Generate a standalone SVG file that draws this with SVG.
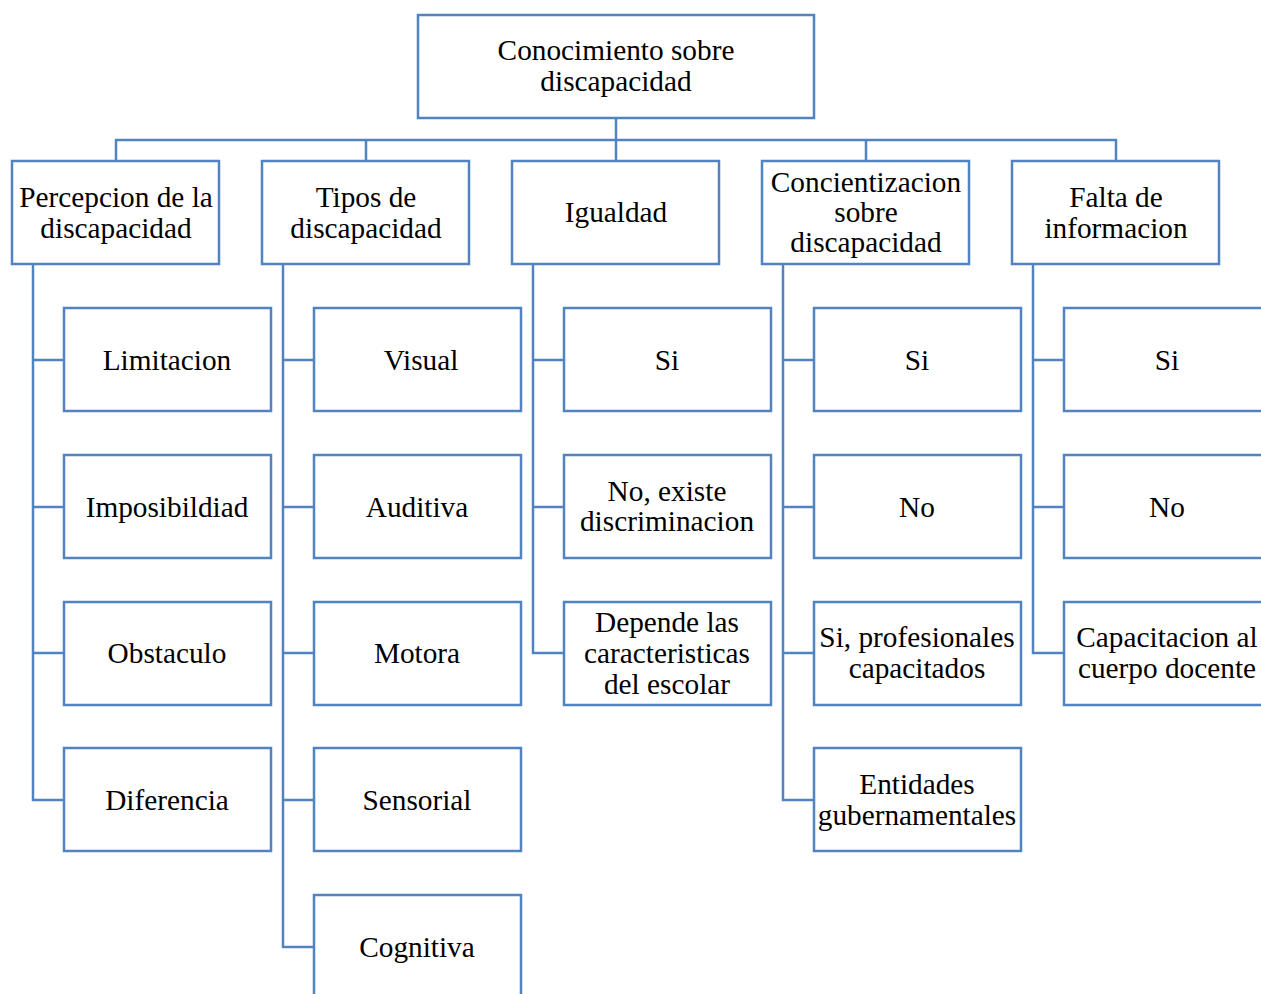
<svg xmlns="http://www.w3.org/2000/svg" width="1261" height="994" viewBox="0 0 1261 994" font-family="Liberation Serif, DejaVu Serif, serif">
<style>
.b{fill:#fff;stroke:#5083BF;stroke-width:2.5}
.c{fill:none;stroke:#5083BF;stroke-width:2.5}
.t{font-size:29.3px;fill:#000;text-anchor:middle}
</style>
<rect width="1261" height="994" fill="#fff"/>
<g id="connectors">
<path class="c" d="M616 118V140M116 161V140H1116V161M366 140V161M616 140V161M866 140V161"/>
<path class="c" d="M33 264V800H64M33 360H64M33 507H64M33 653H64"/>
<path class="c" d="M283 264V947H314M283 360H314M283 507H314M283 653H314M283 800H314"/>
<path class="c" d="M533 264V653H564M533 360H564M533 507H564"/>
<path class="c" d="M783 264V800H814M783 360H814M783 507H814M783 653H814"/>
<path class="c" d="M1033 264V653H1064M1033 360H1064M1033 507H1064"/>
</g>
<g class="t" font-family="Liberation Serif, DejaVu Serif, serif">
<g id="root"><rect class="b" x="418" y="15" width="396" height="103"/><text x="616" y="60">Conocimiento sobre</text><text x="616" y="91">discapacidad</text></g>
<g id="n1"><rect class="b" x="12" y="161" width="207" height="103"/><text x="116" y="207">Percepcion de la</text><text x="116" y="238">discapacidad</text></g>
<g id="n2"><rect class="b" x="262" y="161" width="207" height="103"/><text x="366" y="207">Tipos de</text><text x="366" y="238">discapacidad</text></g>
<g id="n3"><rect class="b" x="512" y="161" width="207" height="103"/><text x="616" y="222">Igualdad</text></g>
<g id="n4"><rect class="b" x="762" y="161" width="207" height="103"/><text x="866" y="192">Concientizacion</text><text x="866" y="222">sobre</text><text x="866" y="252">discapacidad</text></g>
<g id="n5"><rect class="b" x="1012" y="161" width="207" height="103"/><text x="1116" y="207">Falta de</text><text x="1116" y="238">informacion</text></g>

<g id="n1a"><rect class="b" x="64" y="308" width="207" height="103"/><text x="167" y="370">Limitacion</text></g>
<g id="n1b"><rect class="b" x="64" y="455" width="207" height="103"/><text x="167" y="517">Imposibildiad</text></g>
<g id="n1c"><rect class="b" x="64" y="602" width="207" height="103"/><text x="167" y="663">Obstaculo</text></g>
<g id="n1d"><rect class="b" x="64" y="748" width="207" height="103"/><text x="167" y="810">Diferencia</text></g>

<g id="n2a"><rect class="b" x="314" y="308" width="207" height="103"/><text x="421" y="370">Visual</text></g>
<g id="n2b"><rect class="b" x="314" y="455" width="207" height="103"/><text x="417" y="517">Auditiva</text></g>
<g id="n2c"><rect class="b" x="314" y="602" width="207" height="103"/><text x="417" y="663">Motora</text></g>
<g id="n2d"><rect class="b" x="314" y="748" width="207" height="103"/><text x="417" y="810">Sensorial</text></g>
<g id="n2e"><rect class="b" x="314" y="895" width="207" height="103"/><text x="417" y="957">Cognitiva</text></g>

<g id="n3a"><rect class="b" x="564" y="308" width="207" height="103"/><text x="667" y="370">Si</text></g>
<g id="n3b"><rect class="b" x="564" y="455" width="207" height="103"/><text x="667" y="501">No, existe</text><text x="667" y="531">discriminacion</text></g>
<g id="n3c"><rect class="b" x="564" y="602" width="207" height="103"/><text x="667" y="632">Depende las</text><text x="667" y="663">caracteristicas</text><text x="667" y="694">del escolar</text></g>

<g id="n4a"><rect class="b" x="814" y="308" width="207" height="103"/><text x="917" y="370">Si</text></g>
<g id="n4b"><rect class="b" x="814" y="455" width="207" height="103"/><text x="917" y="517">No</text></g>
<g id="n4c"><rect class="b" x="814" y="602" width="207" height="103"/><text x="917" y="647">Si, profesionales</text><text x="917" y="678">capacitados</text></g>
<g id="n4d"><rect class="b" x="814" y="748" width="207" height="103"/><text x="917" y="794">Entidades</text><text x="917" y="825">gubernamentales</text></g>

<g id="n5a"><rect class="b" x="1064" y="308" width="207" height="103"/><text x="1167" y="370">Si</text></g>
<g id="n5b"><rect class="b" x="1064" y="455" width="207" height="103"/><text x="1167" y="517">No</text></g>
<g id="n5c"><rect class="b" x="1064" y="602" width="207" height="103"/><text x="1167" y="647">Capacitacion al</text><text x="1167" y="678">cuerpo docente</text></g>
</g>
</svg>
